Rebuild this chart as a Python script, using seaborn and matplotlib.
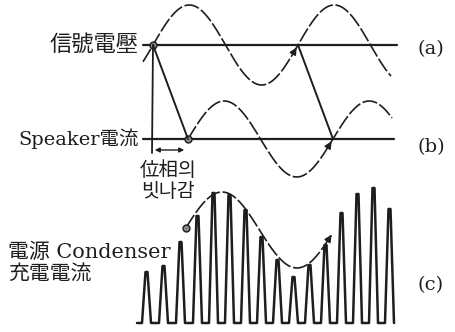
import numpy as np
import pandas as pd
import matplotlib
matplotlib.use("Agg")
import matplotlib.pyplot as plt
import seaborn as sns

# --- values (pixel space, y grows downward) ---
panel_labels = ["(a)", "(b)", "(c)"]
row_names = ["信號電壓", "Speaker電流"]
phase_label = "位相의\n빗나감"
charge_label = "電源 Condenser\n充電電流"

# reference axes of (a) and (b)
axis_y = [45, 139]
axis_x0 = [143, 143]
axis_x1 = [397, 394]

# sine waves: start of rising zero crossing, amplitude, period, drawn range
sine_x0 = [153, 188]
sine_amp = [40, 38]
sine_period = [145, 145]
sine_from = [143, 188]
sine_to = [391, 392]

# rectified charging pulses for (c)
pulse_x = [147, 164, 181, 198, 214, 230, 246, 262, 278, 294, 310, 326, 342, 358, 374, 390]
pulse_top = [272, 266, 242, 216, 193, 195, 210, 237, 260, 277, 265, 245, 213, 194, 188, 209]
pulse_base = 323

# envelope of (c): peak position, mid level, swing
env_peak_x = 222
env_mid = 230
env_amp = 38
env_from, env_to = 186, 333

ink = "#1e1e1e"

sns.set_theme(style="white")
plt.rcParams["font.family"] = ["DejaVu Serif", "Noto Sans CJK KR", "DejaVu Sans"]

fig = plt.figure(figsize=(4.55, 3.32), dpi=100)
ax = fig.add_axes([0, 0, 1, 1])
ax.set_xlim(0, 455)
ax.set_ylim(332, 0)
ax.axis("off")

# axes lines
for y, x0, x1 in zip(axis_y, axis_x0, axis_x1):
    ax.plot([x0, x1], [y, y], color=ink, lw=1.6)

# sine waves
for i in range(2):
    xs = np.linspace(sine_from[i], sine_to[i], 300)
    ys = axis_y[i] - sine_amp[i] * np.sin(2 * np.pi * (xs - sine_x0[i]) / sine_period[i])
    df = pd.DataFrame({"x": xs, "y": ys})
    sns.lineplot(data=df, x="x", y="y", ax=ax, color=ink, lw=1.2,
                 sort=False, estimator=None, linestyle=(0, (9, 1.6)))
    # arrow on the next rising crossing
    xc = sine_x0[i] + sine_period[i]
    xa = xc - 5
    ya = axis_y[i] - sine_amp[i] * np.sin(2 * np.pi * (xa - sine_x0[i]) / sine_period[i])
    ax.annotate("", xy=(xc, axis_y[i]), xytext=(xa, ya),
                arrowprops=dict(arrowstyle="-|>", color=ink, lw=1.2, mutation_scale=10))

# dots on crossings
ax.plot([sine_x0[0], sine_x0[1]], [axis_y[0], axis_y[1]], "o", ms=5,
        mfc="#888888", mec=ink, mew=1.0)

# phase shift construction
ax.plot([sine_x0[0], sine_x0[0] - 1], [axis_y[0], 153], color=ink, lw=1.3)
ax.plot([sine_x0[0], sine_x0[1]], [axis_y[0], axis_y[1]], color=ink, lw=1.4)
xc0 = sine_x0[0] + sine_period[0]
xc1 = sine_x0[1] + sine_period[1]
ax.plot([xc0, xc1], [axis_y[0], axis_y[1]], color=ink, lw=1.4)
ax.annotate("", xy=(sine_x0[0] - 1, 150), xytext=(sine_x0[1] - 1, 150),
            arrowprops=dict(arrowstyle="<|-|>", color=ink, lw=1.0, mutation_scale=7))

# pulse train
px, py = [137], [pulse_base]
for xc, top in zip(pulse_x, pulse_top):
    px += [xc - 5, xc - 1.5, xc + 0.5, xc + 4]
    py += [pulse_base, top, top, pulse_base]
trace = pd.DataFrame({"x": px, "y": py})
sns.lineplot(data=trace, x="x", y="y", ax=ax, color=ink, lw=1.8,
             sort=False, estimator=None)

# envelope
ex = np.linspace(env_from, env_to - 4, 200)
ey = env_mid - env_amp * np.cos(2 * np.pi * (ex - env_peak_x) / 150)
ax.plot(ex, ey, color=ink, lw=1.2, linestyle=(0, (9, 1.6)))
ax.annotate("", xy=(env_to, env_mid - env_amp * np.cos(2 * np.pi * (env_to - env_peak_x) / 150)),
            xytext=(ex[-1], ey[-1]),
            arrowprops=dict(arrowstyle="-|>", color=ink, lw=1.2, mutation_scale=10))
ax.plot([env_from], [env_mid - env_amp * np.cos(2 * np.pi * (env_from - env_peak_x) / 150)],
        "o", ms=5, mfc="#888888", mec=ink, mew=1.0)

# text
ax.text(139, axis_y[0], row_names[0], ha="right", va="center", fontsize=16, color=ink)
ax.text(139, axis_y[1], row_names[1], ha="right", va="center", fontsize=14, color=ink)
ax.text(168, 181, phase_label, ha="center", va="center", fontsize=14,
        color=ink, linespacing=1.2)
ax.text(8, 263, charge_label, ha="left", va="center", fontsize=15,
        color=ink, linespacing=1.15)
for y, lab in zip([49, 147, 285], panel_labels):
    ax.text(431, y, lab, ha="center", va="center", fontsize=14, color=ink)

fig.savefig("out.png", dpi=100)
